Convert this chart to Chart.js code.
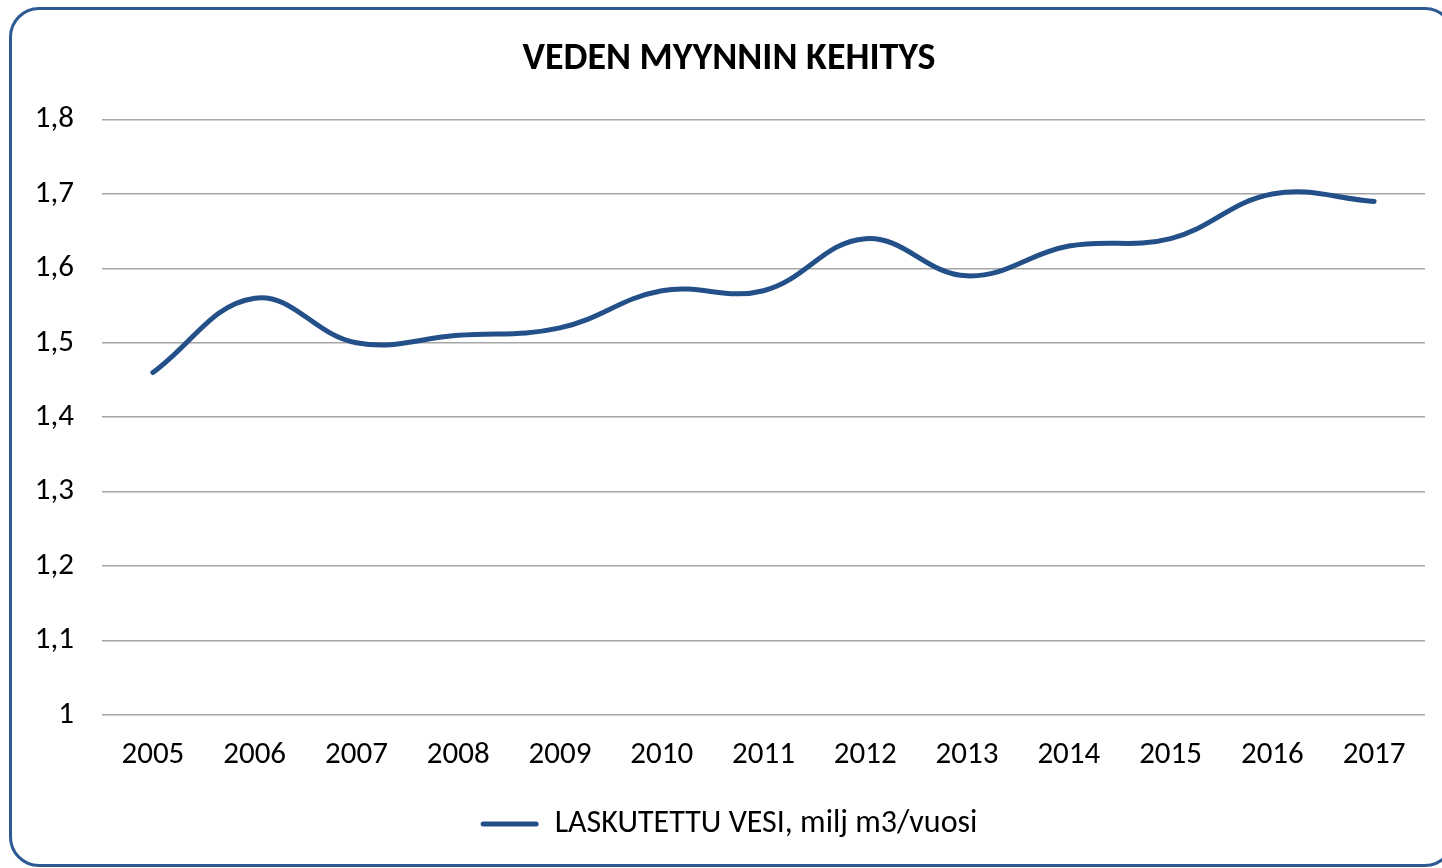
<!DOCTYPE html>
<html>
<head>
<meta charset="utf-8">
<script src="https://cdn.jsdelivr.net/npm/chart.js@4"></script>
<style>
  html, body { margin: 0; padding: 0; background: #fff; overflow: hidden; width: 1442px; height: 868px; }
  #frame { position: absolute; left: 9px; top: 7px; width: 1446px; height: 860px; border: 3px solid #2e5a93; border-radius: 30px; box-sizing: border-box; }
  #wrap { position: absolute; left: 9px; top: 7px; width: 1446px; height: 860px; }
</style>
</head>
<body>
<div id="frame"></div>
<div id="wrap"><canvas id="c" width="1446" height="860"></canvas></div>
<script>
const years = ['2005','2006','2007','2008','2009','2010','2011','2012','2013','2014','2015','2016','2017'];
const laskutettuVesi = [1.46, 1.56, 1.50, 1.51, 1.52, 1.57, 1.57, 1.64, 1.59, 1.63, 1.64, 1.70, 1.69];
const seriesLabel = 'LASKUTETTU VESI, milj m3/vuosi';
const chartTitle = 'VEDEN MYYNNIN KEHITYS';
const yMin = 1, yMax = 1.8, yStep = 0.1;

const FONT = 'Carlito, Calibri, Lato, "Liberation Sans", sans-serif';
const LINE = '#24508a';

new Chart(document.getElementById('c'), {
  type: 'line',
  data: {
    labels: years,
    datasets: [{
      label: seriesLabel,
      data: laskutettuVesi,
      borderColor: LINE,
      backgroundColor: LINE,
      borderWidth: 5,
      tension: 0.4,
      pointRadius: 0,
      fill: false,
      borderCapStyle: 'round'
    }]
  },
  options: {
    responsive: false,
    animation: false,
    layout: { padding: { left: 24, right: 30, top: 30, bottom: 17 } },
    plugins: {
      title: {
        display: true,
        text: chartTitle,
        color: '#000',
        font: { family: FONT, size: 38, weight: 'bold' },
        padding: { top: 0, bottom: 37 }
      },
      legend: {
        position: 'bottom',
        labels: {
          color: '#000',
          font: { family: FONT, size: 32 },
          boxWidth: 58,
          boxHeight: 5,
          padding: 20,
          generateLabels: (chart) => chart.data.datasets.map((ds, i) => ({
            text: ds.label,
            fillStyle: LINE,
            strokeStyle: LINE,
            lineWidth: 0,
            borderRadius: 2.5,
            datasetIndex: i,
            fontColor: '#000'
          }))
        }
      },
      tooltip: { enabled: false }
    },
    scales: {
      x: {
        offset: true,
        grid: { display: false },
        border: { display: false },
        ticks: { color: '#000', font: { family: FONT, size: 31 }, padding: 14, maxRotation: 0 }
      },
      y: {
        min: yMin, max: yMax,
        afterFit: (s) => { s.width = 69; },
        grid: { color: '#a6a6a6', lineWidth: 1.5, drawTicks: false },
        border: { display: false },
        ticks: {
          stepSize: yStep,
          color: '#000',
          font: { family: FONT, size: 31 },
          padding: 28,
          callback: (v) => (Math.round(v * 10) / 10).toString().replace('.', ',')
        }
      }
    }
  }
});
</script>
</body>
</html>
